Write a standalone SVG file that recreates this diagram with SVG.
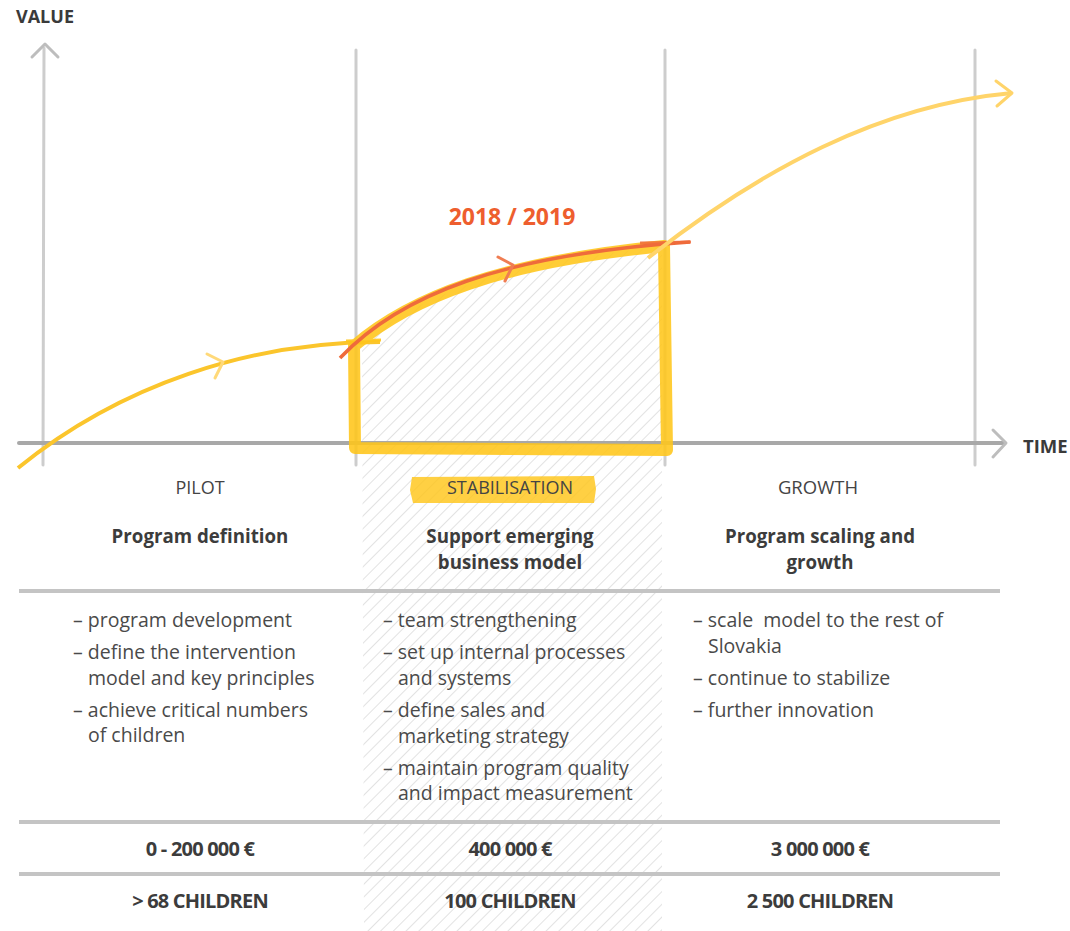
<svg xmlns="http://www.w3.org/2000/svg" width="1070" height="931" viewBox="0 0 1070 931">
  <defs>
    <pattern id="hatch" patternUnits="userSpaceOnUse" width="9" height="9" patternTransform="rotate(45)">
      <line x1="0" y1="0" x2="0" y2="9" stroke="#cfcfcf" stroke-width="1.2"/>
    </pattern>
    <filter id="pencil" x="-5%" y="-5%" width="110%" height="110%">
      <feGaussianBlur stdDeviation="0.7"/>
    </filter>
    <style>
      .grid { stroke: #cdcdcd; stroke-width: 3; fill: none; stroke-linecap: round; }
      .axis { stroke: #a8a8a8; stroke-width: 4; fill: none; stroke-linecap: round; }
      .sep { stroke: #c4c4c4; stroke-width: 4; fill: none; }
      .txt { font-family: "Open Sans", "Noto Sans", sans-serif; fill: #3c3c3c; }
      .axlabel { font-size: 18px; font-weight: 700; fill: #3a3a3a; }
      .stage { font-size: 18px; font-weight: 400; fill: #444; text-anchor: middle; }
      .title { font-size: 18.7px; font-weight: 700; text-anchor: middle; }
      .item { font-size: 19.5px; font-weight: 400; fill: #4a4a4a; }
      .num { font-size: 20px; font-weight: 700; text-anchor: middle; letter-spacing: -0.8px; }
      .chev { fill: none; stroke-width: 3; stroke-linecap: round; stroke-linejoin: round; }
    </style>
  </defs>

  <rect width="1070" height="931" fill="#ffffff"/>

  <!-- hatched stabilisation column -->
  <g id="stabilisation-zone">
    <path d="M362,345 C410,300 500,262 662,247 L662,931 L364,931 Z" fill="url(#hatch)"/>
  </g>

  <!-- grid and axes -->
  <g id="axes" filter="url(#pencil)">
    <line class="grid" x1="356" y1="50" x2="356" y2="465"/>
    <line class="grid" x1="665" y1="50" x2="665" y2="465"/>
    <line class="grid" x1="975" y1="50" x2="975" y2="465"/>
    <line class="grid" x1="44" y1="48" x2="43" y2="465"/>
    <line class="axis" x1="19" y1="443" x2="1004" y2="443"/>
    <path class="chev" stroke="#bdbdbd" d="M32,57 L45,44 L58,57"/>
    <path class="chev" stroke="#bdbdbd" d="M993,430 L1006,443 L993,457"/>
  </g>
  <text class="txt axlabel" x="16" y="23">VALUE</text>
  <text class="txt axlabel" x="1023" y="453" style="font-size:18.5px">TIME</text>

  <!-- growth curves -->
  <g id="connectors">
    <!-- pilot curve -->
    <g id="curve-pilot">
      <path d="M18,468 C120,385 250,342 380,342" fill="none" stroke="#FBC52C" stroke-width="4"/>
      <path class="chev" stroke="#FFD979" stroke-width="2.5" d="M207,354 L223,362 L215,378"/>
    </g>
    <!-- stabilisation box, highlighter strokes -->
    <g id="stabilisation-box" opacity="0.88">
      <path d="M355,448 L354,346 C410,298 500,262 664,246 L667,450 Z" fill="none" stroke="#FFC61A" stroke-width="12" stroke-linejoin="round"/>
      <line x1="346" y1="341" x2="381" y2="340" stroke="#FFC61A" stroke-width="3"/>
    </g>
    <!-- 2018 / 2019 curve -->
    <g id="curve-stabilisation">
      <path d="M340,358 C400,295 500,255 690,242" fill="none" stroke="#EF6B3B" stroke-width="3.5"/>
      <path class="chev" stroke="#F07D52" stroke-width="2.5" d="M498,257 L513,265 L505,281"/>
      <line x1="640" y1="243" x2="691" y2="242" stroke="#EF6B3B" stroke-width="3" opacity="0.85"/>
    </g>
    <!-- growth curve -->
    <g id="curve-growth">
      <path d="M648,258 C760,170 880,105 1012,93" fill="none" stroke="#FFD46A" stroke-width="4"/>
      <path class="chev" stroke="#FFD46A" stroke-width="2.5" d="M996,81 L1012,93 L997,106"/>
    </g>
  </g>

  <text class="txt" x="512" y="225" font-size="23" font-weight="700" text-anchor="middle" style="fill:#EE5E2E">2018 / 2019</text>

  <!-- stage headers -->
  <g id="stage-pilot">
    <text class="txt stage" x="200" y="494">PILOT</text>
    <text class="txt title" x="200" y="543">Program definition</text>
  </g>
  <g id="stage-stabilisation">
    <path d="M412,477 L594,476 L596,489 L594,503 L413,503 L410,490 Z" fill="#FFC61A" opacity="0.82"/>
    <text class="txt stage" x="510" y="494">STABILISATION</text>
    <text class="txt title" x="510" y="543">Support emerging</text>
    <text class="txt title" x="510" y="569">business model</text>
  </g>
  <g id="stage-growth">
    <text class="txt stage" x="818" y="494" style="font-size:18.5px">GROWTH</text>
    <text class="txt title" x="820" y="543">Program scaling and</text>
    <text class="txt title" x="820" y="569">growth</text>
  </g>

  <!-- table separators -->
  <g id="separators" filter="url(#pencil)">
    <line class="sep" x1="19" y1="591" x2="1000" y2="591"/>
    <line class="sep" x1="19" y1="822" x2="1000" y2="822"/>
    <line class="sep" x1="19" y1="874" x2="1000" y2="874"/>
  </g>

  <!-- activity lists -->
  <g id="list-pilot" class="txt item">
    <text x="73" y="627">– program development</text>
    <text x="73" y="659">– define the intervention</text>
    <text x="88" y="685">model and key principles</text>
    <text x="73" y="717">– achieve critical numbers</text>
    <text x="88" y="742">of children</text>
  </g>
  <g id="list-stabilisation" class="txt item">
    <text x="383" y="627">– team strengthening</text>
    <text x="383" y="659">– set up internal processes</text>
    <text x="398" y="685">and systems</text>
    <text x="383" y="717">– define sales and</text>
    <text x="398" y="743">marketing strategy</text>
    <text x="383" y="775">– maintain program quality</text>
    <text x="398" y="800">and impact measurement</text>
  </g>
  <g id="list-growth" class="txt item">
    <text x="693" y="627" xml:space="preserve">– scale  model to the rest of</text>
    <text x="708" y="653">Slovakia</text>
    <text x="693" y="685">– continue to stabilize</text>
    <text x="693" y="717">– further innovation</text>
  </g>

  <!-- budget and reach -->
  <g id="budget" class="txt num">
    <text x="200" y="856">0 - 200 000 €</text>
    <text x="510" y="856">400 000 €</text>
    <text x="820" y="856">3 000 000 €</text>
  </g>
  <g id="reach" class="txt num">
    <text x="200" y="908">&gt; 68 CHILDREN</text>
    <text x="510" y="908">100 CHILDREN</text>
    <text x="820" y="908">2 500 CHILDREN</text>
  </g>
</svg>
